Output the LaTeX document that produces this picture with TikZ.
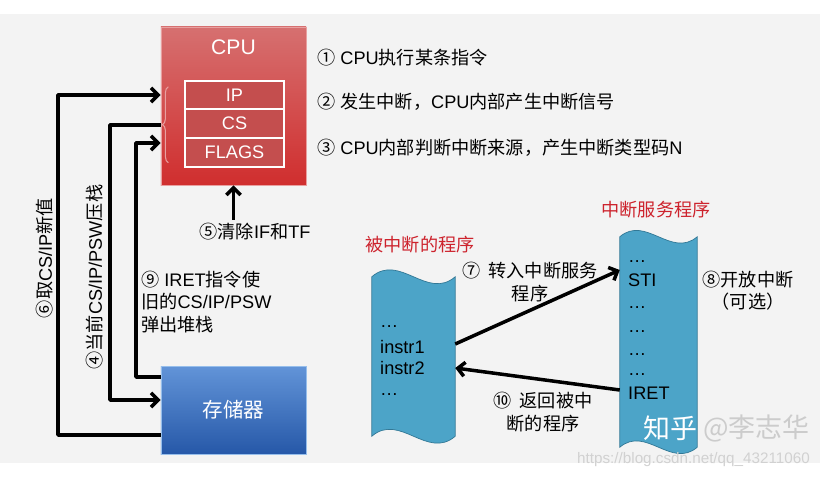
\documentclass[tikz,border=0pt]{standalone}
\usepackage{fontspec}
\setmainfont{Liberation Sans}
\newfontfamily\cjk{Noto Sans CJK SC}
\newcommand{\zh}[1]{{\cjk #1}}
\usetikzlibrary{arrows.meta,positioning,decorations.pathreplacing}

\definecolor{panelgray}{RGB}{243,243,243}
\definecolor{cpuhi}{RGB}{214,112,112}
\definecolor{cpumid}{RGB}{163,34,34}
\definecolor{cpulo}{RGB}{208,46,46}
\definecolor{cpuedge}{RGB}{232,160,160}
\definecolor{regfill}{RGB}{196,78,78}
\definecolor{memhi}{RGB}{98,148,216}
\definecolor{memlo}{RGB}{38,88,168}
\definecolor{memedge}{RGB}{150,190,235}
\definecolor{tapeblue}{RGB}{76,164,200}
\definecolor{tapeedge}{RGB}{50,120,150}
\definecolor{titlered}{RGB}{205,35,45}

\tikzset{
  lbl/.style={font=\fontsize{15.5}{19}\selectfont, inner sep=0pt},
  arr/.style={line width=3pt, line join=round, -{Straight Barb[length=6pt,width=12pt]}},
  reg/.style={draw=white, line width=1.5pt, fill=regfill, minimum width=2.97cm,
    minimum height=0.86cm, inner sep=0pt, outer sep=0pt, text=white,
    font=\fontsize{15.5}{19}\selectfont},
  tape/.style={fill=tapeblue, draw=tapeedge, line width=0.6pt},
  code/.style={lbl, anchor=west},
  title/.style={lbl, text=titlered}
}

\begin{document}
\begin{tikzpicture}[x=0.03cm, y=-0.03cm]
  \useasboundingbox (0,0) rectangle (820,479);
  \fill[white] (0,0) rectangle (820,479);
  \fill[panelgray] (0,14) rectangle (820,463);

  % CPU with its registers
  \node[draw=cpuedge, line width=0.8pt, top color=cpuhi, middle color=cpumid,
    bottom color=cpulo, minimum width=4.35cm, minimum height=4.74cm,
    inner sep=0pt] (cpu) at (233.5,106) {};
  \node[lbl, text=white, font=\fontsize{18}{20}\selectfont] (cputitle) at (233.5,47) {CPU};
  \node[reg] (ip) at (234.5,95) {IP};
  \node[reg, below=0pt of ip] (cs) {CS};
  \node[reg, below=0pt of cs] (flags) {FLAGS};
  \draw[decorate, decoration={brace, amplitude=5pt}, draw=cpuedge, line width=0.9pt]
    ([xshift=-0.5cm, yshift=0.12cm]flags.south west)
    -- ([xshift=-0.5cm, yshift=-0.18cm]ip.north west);

  % memory
  \node[draw=memedge, line width=0.8pt, top color=memhi, bottom color=memlo,
    minimum width=4.35cm, minimum height=2.64cm, text=white,
    font=\fontsize{17.5}{20}\selectfont] (mem) at (233.5,410) {\zh{存储器}};

  % steps
  \node[lbl, anchor=west] (s1) at (317,58) {\zh{①} CPU\zh{执行某条指令}};
  \node[lbl, anchor=west] (s2) at (317,102) {\zh{②} \zh{发生中断，}CPU\zh{内部产生中断信号}};
  \node[lbl, anchor=west] (s3) at (317,148) {\zh{③} CPU\zh{内部判断中断来源，产生中断类型码}N};

  % stack arrows
  \draw[arr] (mem.west |- 0,435) -| (58,95) -- (cpu.west |- 0,95);
  \draw[arr] (cpu.west |- 0,125) -- (110,125) |- (mem.west |- 0,400);
  \draw[arr] (mem.west |- 0,377) -| (136,143) -- (cpu.west |- 0,143);
  \node[lbl, rotate=90] (fetch) at (45,258) {\zh{⑥取}CS/IP\zh{新值}};
  \node[lbl, rotate=90] (push) at (95,277) {\zh{④当前}CS/IP/PSW\zh{压栈}};
  \node[lbl, align=left, anchor=west] (pop) at (141,302)
    {\zh{⑨} IRET\zh{指令使}\\\zh{旧的}CS/IP/PSW\\\zh{弹出堆栈}};

  \node[lbl] (clr) at (255,232) {\zh{⑤清除}IF\zh{和}TF};
  \draw[arr] ([yshift=3pt]cpu.south |- clr.north) -- (cpu.south);

  % programs
  \node[title] (progtitle) at (420,245) {\zh{被中断的程序}};
  \node[title] (isrtitle) at (656,210) {\zh{中断服务程序}};
  \node[minimum width=2.49cm, minimum height=4.77cm, inner sep=0pt] (prog) at (413.5,356.5) {};
  \node[minimum width=2.31cm, minimum height=6.3cm, inner sep=0pt] (isr) at (658.5,342) {};
  \draw[tape] (prog.north west) .. controls +(28,-24) and +(-28,24) .. (prog.north east)
    -- (prog.south east) .. controls +(-28,24) and +(28,-24) .. (prog.south west) -- cycle;
  \draw[tape] (isr.north west) .. controls +(26,-22) and +(-26,22) .. (isr.north east)
    -- (isr.south east) .. controls +(-26,22) and +(26,-22) .. (isr.south west) -- cycle;

  \node[code] (pd1) at (380,327) {\ldots};
  \node[code] (instr1) at (380,347) {instr1};
  \node[code] (instr2) at (380,368) {instr2};
  \node[code] (pd2) at (380,395) {\ldots};

  \node[code] (sd1) at (628,262) {\ldots};
  \node[code] (sti) at (628,280) {STI};
  \node[code] (sd2) at (628,308) {\ldots};
  \node[code] (sd3) at (628,332) {\ldots};
  \node[code] (sd4) at (628,355) {\ldots};
  \node[code] (sd5) at (628,375) {\ldots};
  \node[code] (iret) at (628,393) {IRET};

  \draw[arr] (prog.east |- 0,344) -- (isr.west |- 0,270);
  \draw[arr] (isr.west |- 0,390) -- (prog.east |- 0,368);
  \node[lbl, align=center] (go) at (530,282) {\zh{⑦\ \ 转入中断服务}\\\zh{程序}};
  \node[lbl, align=center] (back) at (543,412) {\zh{⑩\ \ 返回被中}\\\zh{断的程序}};
  \node[lbl, align=center] (open) at (748,291) {\zh{⑧开放中断}\\\zh{（可选）}};

  % watermarks
  \node[lbl, font=\fontsize{23}{25}\selectfont, text=white, anchor=west] (zh) at (643,428) {\zh{知乎}};
  \node[lbl, font=\fontsize{23}{25}\selectfont, text=black!20, anchor=west] (au) at (703,428) {\zh{@李志华}};
  \node[lbl, font=\fontsize{13}{15}\selectfont, text=black!18, anchor=east] (url) at (810,460) {https://blog.csdn.net/qq\_43211060};
\end{tikzpicture}
\end{document}
